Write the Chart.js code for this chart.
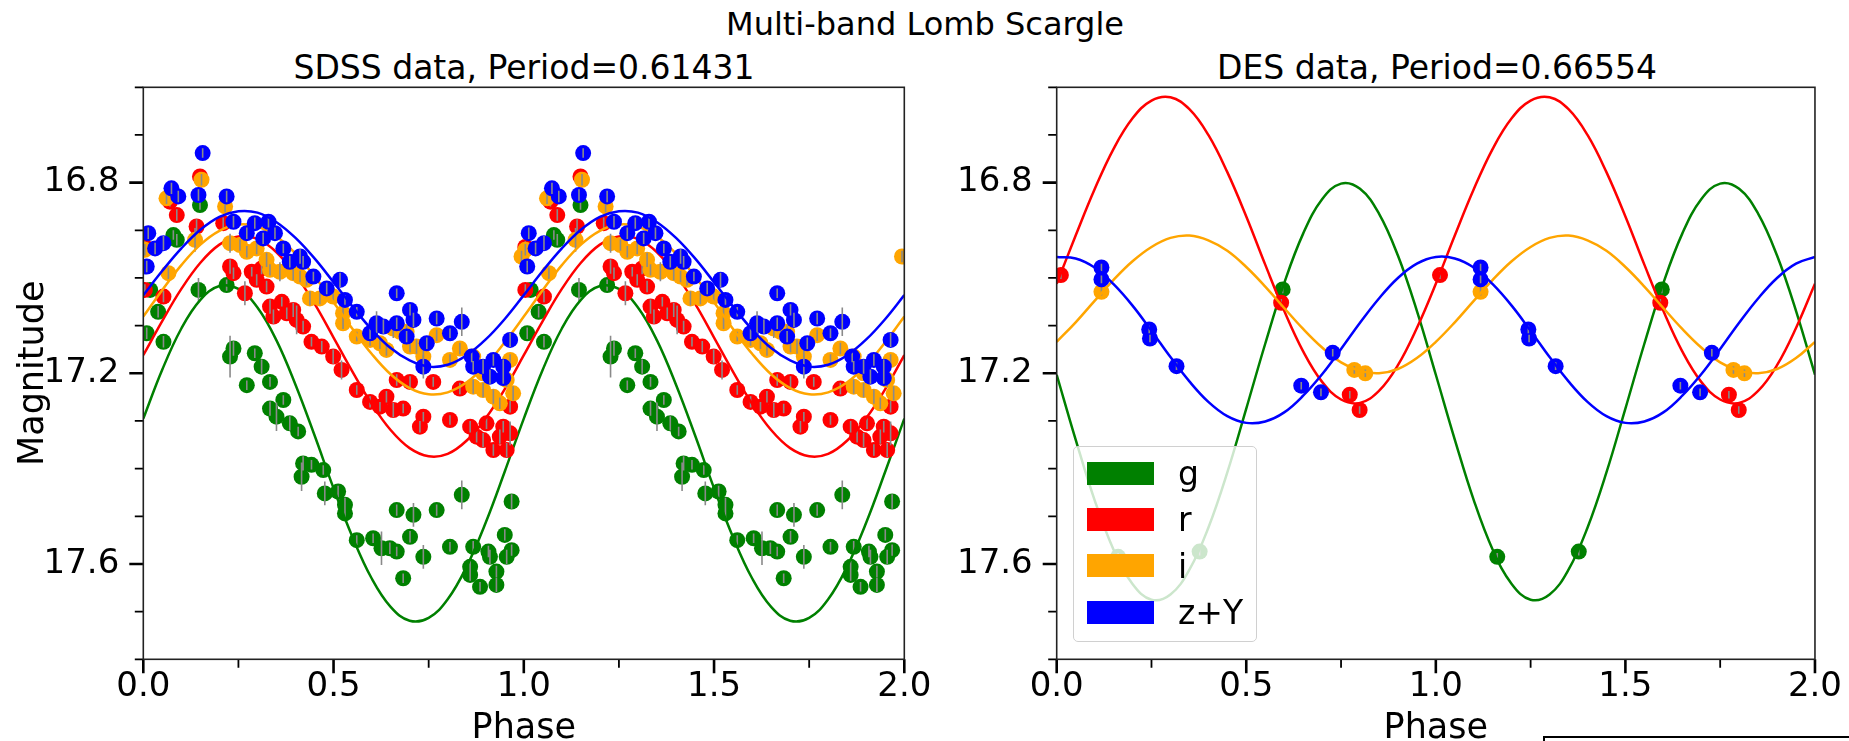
<!DOCTYPE html>
<html>
<head>
<meta charset="utf-8">
<script src="https://cdn.jsdelivr.net/npm/chart.js@4"></script>
<style>
  html, body { margin: 0; padding: 0; background: #fff; }
  body { width: 1849px; height: 741px; position: relative; overflow: hidden; font-family: "DejaVu Sans", sans-serif; }
  .txt { position: absolute; white-space: nowrap; color: #000; line-height: 1; transform: translate(-50%, -50%); }
  #boxL { position: absolute; left: 0; top: 0; width: 950px; height: 741px; }
  #boxR { position: absolute; left: 950px; top: 0; width: 899px; height: 741px; }
  #legend { position: absolute; left: 1073px; top: 446px; width: 184px; height: 196px; box-sizing: border-box;
            background: rgba(255,255,255,0.8); border: 1.5px solid #d0d0d0; border-radius: 5px; z-index: 5; }
  #legend .sw { position: absolute; left: 13px; width: 67px; height: 23px; }
  #legend .lb { position: absolute; left: 104px; font-size: 33px; line-height: 1; color: #000; transform: translateY(-50%); }
  #inset { position: absolute; left: 1543px; top: 736px; width: 400px; height: 40px; border: 2.5px solid #000; }
</style>
</head>
<body>
<div class="txt" style="left:925px; top:24px; font-size:32px;">Multi-band Lomb Scargle</div>
<div class="txt" style="left:524px; top:67px; font-size:33px;">SDSS data, Period=0.61431</div>
<div class="txt" style="left:1437px; top:67px; font-size:33px;">DES data, Period=0.66554</div>
<div id="boxL"><canvas id="sdss"></canvas></div>
<div id="boxR"><canvas id="des"></canvas></div>
<div id="legend"></div>
<div id="inset"></div>
<script>
// Bands and their colours
const bands = ['g', 'r', 'i', 'z+Y'];
const bandColors = ['#008000', '#ff0000', '#ffa500', '#0000ff'];

// Axis ticks
const phaseTicks = [0, 0.5, 1.0, 1.5, 2.0];
const phaseMinor = [0.25, 0.75, 1.25, 1.75];
const magTicks = [16.8, 17.2, 17.6];
const magMinor = [16.6, 16.7, 16.9, 17.0, 17.1, 17.3, 17.4, 17.5, 17.7, 17.8];

// Model light curves over one cycle of phase
const modelPhase = [0, 0.05, 0.1, 0.15, 0.2, 0.25, 0.3, 0.35, 0.4, 0.45, 0.5, 0.55, 0.6, 0.65, 0.7, 0.75, 0.8, 0.85, 0.9, 0.95];

const sdssModelG = [17.295, 17.192, 17.106, 17.046, 17.017, 17.023, 17.062, 17.131, 17.224, 17.330, 17.441, 17.544, 17.630, 17.690, 17.719, 17.713, 17.674, 17.605, 17.513, 17.406];
const sdssModelR = [17.162, 17.090, 17.023, 16.968, 16.930, 16.913, 16.918, 16.946, 16.993, 17.054, 17.125, 17.197, 17.264, 17.319, 17.357, 17.374, 17.369, 17.341, 17.294, 17.233];
const sdssModelI = [17.081, 17.025, 16.973, 16.930, 16.901, 16.888, 16.892, 16.913, 16.949, 16.997, 17.051, 17.107, 17.159, 17.202, 17.231, 17.244, 17.240, 17.219, 17.183, 17.135];
const sdssModelZ = [17.036, 16.985, 16.938, 16.899, 16.872, 16.860, 16.863, 16.883, 16.916, 16.959, 17.009, 17.060, 17.108, 17.147, 17.173, 17.186, 17.182, 17.162, 17.129, 17.086];

const desModelG = [17.203, 17.339, 17.466, 17.570, 17.642, 17.675, 17.664, 17.612, 17.524, 17.408, 17.274, 17.138, 17.011, 16.907, 16.835, 16.802, 16.813, 16.865, 16.953, 17.069];
const desModelR = [17.012, 16.911, 16.814, 16.729, 16.665, 16.628, 16.621, 16.646, 16.700, 16.778, 16.871, 16.972, 17.069, 17.154, 17.218, 17.255, 17.262, 17.237, 17.183, 17.105];
const desModelI = [17.134, 17.093, 17.048, 17.004, 16.965, 16.935, 16.916, 16.911, 16.921, 16.943, 16.977, 17.018, 17.063, 17.107, 17.146, 17.177, 17.195, 17.200, 17.191, 17.168];
const desModelZ = [16.956, 16.959, 16.978, 17.013, 17.058, 17.111, 17.166, 17.217, 17.260, 17.290, 17.304, 17.301, 17.282, 17.247, 17.202, 17.149, 17.094, 17.043, 17.000, 16.970];

// Phased observations: [phase, magnitude, error]
const sdssG = [
  [0.009,17.116,0.012],[0.018,17.025,0.010],[0.039,17.071,0.012],[0.053,17.134,0.012],[0.079,16.910,0.010],
  [0.088,16.920,0.012],[0.145,17.025,0.025],[0.149,16.847,0.010],[0.219,17.015,0.012],[0.228,17.165,0.044],
  [0.237,17.148,0.015],[0.272,17.225,0.010],[0.293,17.158,0.010],[0.311,17.186,0.015],[0.333,17.218,0.010],
  [0.333,17.274,0.015],[0.350,17.291,0.030],[0.368,17.256,0.010],[0.385,17.305,0.015],[0.407,17.322,0.010],
  [0.416,17.417,0.030],[0.420,17.389,0.015],[0.442,17.392,0.010],[0.473,17.403,0.010],[0.477,17.452,0.025],
  [0.512,17.448,0.012],[0.530,17.476,0.015],[0.530,17.494,0.012],[0.561,17.550,0.010],[0.604,17.546,0.010],
  [0.626,17.567,0.035],[0.648,17.567,0.012],[0.666,17.574,0.010],[0.666,17.487,0.012],[0.683,17.630,0.010],
  [0.701,17.543,0.012],[0.710,17.497,0.025],[0.736,17.585,0.025],[0.771,17.487,0.012],[0.806,17.564,0.010],
  [0.837,17.455,0.030],[0.859,17.606,0.012],[0.859,17.623,0.012],[0.867,17.564,0.012],[0.885,17.648,0.010],
  [0.907,17.574,0.012],[0.911,17.585,0.015],[0.928,17.616,0.012],[0.928,17.644,0.015],[0.950,17.539,0.012],
  [0.955,17.585,0.015],[0.968,17.571,0.012],[0.968,17.469,0.015]
];
const sdssR = [
  [0.004,17.025,0.012],[0.004,16.935,0.012],[0.053,17.039,0.012],[0.070,16.840,0.010],[0.088,16.868,0.012],
  [0.140,16.892,0.015],[0.149,16.787,0.010],[0.210,16.885,0.012],[0.228,16.976,0.015],[0.237,16.990,0.012],
  [0.267,17.032,0.025],[0.285,16.987,0.010],[0.298,17.004,0.012],[0.311,16.980,0.012],[0.324,17.018,0.012],
  [0.333,17.060,0.015],[0.342,17.081,0.015],[0.364,17.050,0.010],[0.377,17.074,0.012],[0.394,17.067,0.015],
  [0.403,17.088,0.030],[0.420,17.102,0.012],[0.442,17.134,0.010],[0.469,17.144,0.012],[0.499,17.165,0.015],
  [0.521,17.193,0.020],[0.561,17.235,0.010],[0.596,17.260,0.012],[0.622,17.270,0.010],[0.639,17.249,0.012],
  [0.657,17.277,0.015],[0.666,17.214,0.012],[0.683,17.274,0.010],[0.701,17.218,0.012],[0.727,17.312,0.012],
  [0.736,17.291,0.010],[0.762,17.218,0.010],[0.806,17.298,0.010],[0.832,17.232,0.012],[0.859,17.312,0.012],
  [0.876,17.333,0.012],[0.893,17.340,0.015],[0.902,17.305,0.012],[0.920,17.361,0.012],[0.937,17.333,0.015],
  [0.946,17.312,0.012],[0.955,17.361,0.015],[0.964,17.326,0.025],[0.964,17.270,0.012]
];
const sdssI = [
  [0.004,16.941,0.012],[0.061,16.833,0.012],[0.066,16.990,0.012],[0.136,16.920,0.025],[0.153,16.794,0.012],
  [0.215,16.850,0.012],[0.228,16.927,0.020],[0.254,16.931,0.012],[0.272,16.945,0.012],[0.298,16.938,0.012],
  [0.324,16.962,0.015],[0.333,16.983,0.012],[0.359,16.987,0.020],[0.394,16.990,0.015],[0.412,16.997,0.012],
  [0.429,17.004,0.012],[0.438,17.043,0.015],[0.464,17.043,0.012],[0.499,17.039,0.012],[0.525,17.074,0.015],
  [0.525,17.095,0.012],[0.561,17.123,0.010],[0.596,17.130,0.012],[0.622,17.137,0.012],[0.639,17.151,0.012],
  [0.657,17.106,0.020],[0.675,17.113,0.020],[0.692,17.113,0.015],[0.701,17.144,0.012],[0.718,17.144,0.015],
  [0.736,17.165,0.025],[0.771,17.120,0.012],[0.806,17.172,0.012],[0.832,17.148,0.012],[0.867,17.228,0.015],
  [0.867,17.165,0.012],[0.893,17.235,0.015],[0.893,17.200,0.012],[0.920,17.249,0.015],[0.937,17.263,0.012],
  [0.955,17.214,0.015],[0.964,17.172,0.012],[0.972,17.242,0.015],[0.994,16.955,0.012]
];
const sdssZ = [
  [0.009,16.976,0.012],[0.013,16.906,0.012],[0.031,16.938,0.012],[0.053,16.927,0.015],[0.074,16.812,0.012],
  [0.092,16.829,0.012],[0.145,16.826,0.012],[0.156,16.738,0.010],[0.219,16.829,0.012],[0.237,16.882,0.012],
  [0.272,16.906,0.012],[0.293,16.885,0.012],[0.315,16.917,0.012],[0.329,16.882,0.012],[0.346,16.906,0.012],
  [0.368,16.938,0.010],[0.385,16.966,0.012],[0.412,16.955,0.015],[0.420,16.966,0.012],[0.447,16.997,0.010],
  [0.482,17.022,0.012],[0.517,17.004,0.015],[0.530,17.046,0.010],[0.561,17.071,0.010],[0.596,17.116,0.012],
  [0.613,17.095,0.025],[0.631,17.102,0.015],[0.666,17.032,0.010],[0.666,17.095,0.012],[0.692,17.123,0.012],
  [0.701,17.067,0.012],[0.710,17.088,0.015],[0.736,17.186,0.025],[0.745,17.137,0.012],[0.771,17.085,0.012],
  [0.806,17.116,0.010],[0.837,17.092,0.030],[0.863,17.165,0.012],[0.867,17.186,0.012],[0.893,17.186,0.015],
  [0.911,17.207,0.015],[0.920,17.172,0.012],[0.946,17.186,0.015],[0.946,17.210,0.012],[0.964,17.130,0.015]
];

const desG = [[0.162,17.585,0.008],[0.377,17.574,0.008],[0.596,17.024,0.008]];
const desR = [[0.011,16.994,0.008],[0.592,17.052,0.008],[0.773,17.245,0.008],[0.799,17.277,0.008]];
const desI = [[0.118,17.029,0.008],[0.785,17.193,0.008],[0.814,17.200,0.008]];
const desZ = [[0.118,16.978,0.008],[0.118,17.003,0.008],[0.244,17.108,0.008],[0.246,17.127,0.008],
              [0.316,17.185,0.008],[0.645,17.226,0.008],[0.697,17.240,0.008],[0.728,17.157,0.008]];

const FONT = '"DejaVu Sans", sans-serif';

// Each observation is shown at its phase and again one cycle later
function foldPoints(obs) {
  const pts = [];
  for (const [p, m, e] of obs) {
    pts.push({ x: p, y: m, e: e });
    if (p + 1 <= 2) pts.push({ x: p + 1, y: m, e: e });
  }
  return pts;
}
// Model curve repeated over two cycles
function foldModel(vals) {
  const pts = [];
  for (let k = 0; k < 2; k++) modelPhase.forEach((p, j) => pts.push({ x: p + k, y: vals[j] }));
  pts.push({ x: 2, y: vals[0] });
  return pts;
}

// Vertical error bars, drawn right after their own points
const errorBars = {
  id: 'errorBars',
  afterDatasetDraw(chart, args) {
    const ds = chart.data.datasets[args.index];
    if (!ds.errorBars) return;
    const { ctx, chartArea: a, scales: { x, y } } = chart;
    ctx.save();
    ctx.beginPath();
    ctx.rect(a.left, a.top, a.right - a.left, a.bottom - a.top);
    ctx.clip();
    ctx.strokeStyle = '#8a8a8a';
    ctx.lineWidth = 1.6;
    ctx.beginPath();
    for (const d of ds.data) {
      const px = x.getPixelForValue(d.x);
      ctx.moveTo(px, y.getPixelForValue(d.y - d.e));
      ctx.lineTo(px, y.getPixelForValue(d.y + d.e));
    }
    ctx.stroke();
    ctx.restore();
  }
};

// Axes frame with outward major and minor tick marks
const axisFrame = {
  id: 'axisFrame',
  afterDraw(chart) {
    const { ctx, chartArea: a, scales: { x, y } } = chart;
    ctx.save();
    ctx.strokeStyle = '#000';
    const xTicks = (vals, len, w) => {
      ctx.lineWidth = w;
      ctx.beginPath();
      for (const v of vals) {
        const px = x.getPixelForValue(v);
        ctx.moveTo(px, a.bottom);
        ctx.lineTo(px, a.bottom + len);
      }
      ctx.stroke();
    };
    const yTicks = (vals, len, w) => {
      ctx.lineWidth = w;
      ctx.beginPath();
      for (const v of vals) {
        const py = y.getPixelForValue(v);
        ctx.moveTo(a.left, py);
        ctx.lineTo(a.left - len, py);
      }
      ctx.stroke();
    };
    xTicks(phaseTicks, 14, 2.6);
    xTicks(phaseMinor, 8.5, 1.8);
    yTicks(magTicks, 14, 2.6);
    yTicks(magMinor, 8.5, 1.8);
    ctx.lineWidth = 1.6;
    ctx.strokeStyle = '#222';
    ctx.strokeRect(a.left, a.top, a.right - a.left, a.bottom - a.top);
    ctx.restore();
  }
};

function buildDatasets(obsSets, modelSets) {
  const out = [];
  obsSets.forEach((obs, i) => {
    out.push({
      label: bands[i] + ' data',
      data: foldPoints(obs),
      showLine: false,
      pointRadius: 8,
      pointHoverRadius: 8,
      pointBorderWidth: 0,
      pointBackgroundColor: bandColors[i],
      backgroundColor: bandColors[i],
      errorBars: true,
      clip: 0,
      order: 8 - 2 * i
    });
    out.push({
      label: bands[i] + ' model',
      data: foldModel(modelSets[i]),
      showLine: true,
      pointRadius: 0,
      borderColor: bandColors[i],
      borderWidth: 2.5,
      tension: 0.4,
      fill: false,
      clip: 0,
      order: 7 - 2 * i
    });
  });
  return out;
}

function makeChart(canvasId, obsSets, modelSets, cfg) {
  return new Chart(document.getElementById(canvasId), {
    type: 'scatter',
    data: { datasets: buildDatasets(obsSets, modelSets) },
    plugins: [errorBars, axisFrame],
    options: {
      responsive: true,
      maintainAspectRatio: false,
      animation: false,
      events: [],
      layout: { padding: { left: 0, right: cfg.padRight, top: 87.3, bottom: 0 } },
      plugins: { legend: { display: false }, tooltip: { enabled: false }, title: { display: false } },
      scales: {
        x: {
          type: 'linear', min: 0, max: 2,
          afterBuildTicks: s => { s.ticks = phaseTicks.map(v => ({ value: v })); },
          afterFit: s => { s.height = 741 - 659.3; },
          grid: { display: false, drawTicks: false },
          border: { display: false },
          ticks: { padding: 7, color: '#000', font: { family: FONT, size: 34 }, maxRotation: 0, autoSkip: false,
                   callback: v => Number(v).toFixed(1) },
          title: { display: true, text: 'Phase', color: '#000', font: { family: FONT, size: 35, lineHeight: 1 },
                   padding: { top: 0, bottom: -5 } }
        },
        y: {
          type: 'linear', min: 16.6, max: 17.8, reverse: true,
          afterBuildTicks: s => { s.ticks = magTicks.map(v => ({ value: v })); },
          afterFit: s => { s.width = cfg.yWidth; },
          grid: { display: false, drawTicks: false },
          border: { display: false },
          ticks: { padding: 24, color: '#000', font: { family: FONT, size: 34 }, autoSkip: false,
                   callback: v => Number(v).toFixed(1) },
          title: { display: cfg.yTitle, text: 'Magnitude', color: '#000', font: { family: FONT, size: 35, lineHeight: 1 },
                   padding: { top: 16, bottom: 0 } }
        }
      }
    }
  });
}

makeChart('sdss', [sdssG, sdssR, sdssI, sdssZ], [sdssModelG, sdssModelR, sdssModelI, sdssModelZ],
          { padRight: 950 - 904.3, yWidth: 143.3, yTitle: true });
makeChart('des', [desG, desR, desI, desZ], [desModelG, desModelR, desModelI, desModelZ],
          { padRight: 899 - 866.7, yWidth: 106.7, yTitle: false });

// Band legend inside the DES panel
const legend = document.getElementById('legend');
bands.forEach((b, i) => {
  const sw = document.createElement('div');
  sw.className = 'sw';
  sw.style.top = (14.5 + i * 46.4) + 'px';
  sw.style.background = bandColors[i];
  legend.appendChild(sw);
  const lb = document.createElement('div');
  lb.className = 'lb';
  lb.style.top = (26 + i * 46.4) + 'px';
  lb.textContent = b;
  legend.appendChild(lb);
});
</script>
</body>
</html>
